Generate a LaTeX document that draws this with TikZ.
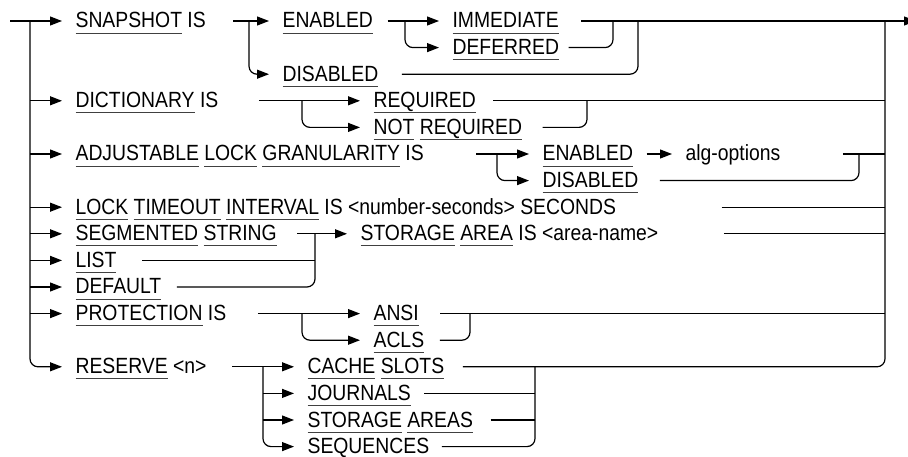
\documentclass[tikz,border=0pt]{standalone}
\usepackage{fontspec}
\setmainfont[FakeStretch=0.88]{Liberation Sans}
\usetikzlibrary{arrows.meta, positioning}

% underlined keyword
\newcommand{\kw}[1]{\setbox0\hbox{#1}\rlap{\color{black!75}\rule[-5.5pt]{\wd0}{0.9pt}}\box0\relax}

\begin{document}
\begin{tikzpicture}[x=1pt, y=-1pt, >={Triangle[length=12pt, width=9pt]}, line width=1.2pt,
    word/.style={anchor=west, inner sep=0pt, text height=14pt, text depth=0pt, font=\fontsize{22}{26}\selectfont},
    go/.style={->, shorten >=13pt},
    rcorner/.style={rounded corners=8pt}]
    \useasboundingbox (0,0) rectangle (908,457);

    % Keywords, one row after the other
    \node[word] (snap) at (75,21) {\kw{SNAPSHOT} IS};
    \node[word] (enA) at (282,21) {\kw{ENABLED}};
    \node[word] (imm) at (452,21) {\kw{IMMEDIATE}};
    \node[word] (defr) at (452,47.6) {\kw{DEFERRED}};
    \node[word] (disA) at (282,74.2) {\kw{DISABLED}};
    \node[word] (dict) at (75,100.8) {\kw{DICTIONARY} IS};
    \node[word] (req) at (373,100.8) {\kw{REQUIRED}};
    \node[word] (nreq) at (373,127.4) {\kw{NOT} \kw{REQUIRED}};
    \node[word] (adj) at (75,154) {\kw{ADJUSTABLE} \kw{LOCK} \kw{GRANULARITY} IS};
    \node[word] (enB) at (542,154) {\kw{ENABLED}};
    \node[word] (alg) at (685,154) {alg-options};
    \node[word] (disB) at (542,180.6) {\kw{DISABLED}};
    \node[word] (lock) at (75,207.2) {\kw{LOCK} \kw{TIMEOUT} \kw{INTERVAL} IS <number-seconds> SECONDS};
    \node[word] (seg) at (75,233.8) {\kw{SEGMENTED} \kw{STRING}};
    \node[word] (area) at (360,233.8) {\kw{STORAGE} \kw{AREA} IS <area-name>};
    \node[word] (list) at (75,260.4) {\kw{LIST}};
    \node[word] (dflt) at (75,287) {\kw{DEFAULT}};
    \node[word] (prot) at (75,313.6) {\kw{PROTECTION} IS};
    \node[word] (ansi) at (373,313.6) {\kw{ANSI}};
    \node[word] (acls) at (373,340.2) {\kw{ACLS}};
    \node[word] (res) at (75,366.8) {\kw{RESERVE} <n>};
    \node[word] (cache) at (307,366.8) {\kw{CACHE} \kw{SLOTS}};
    \node[word] (jour) at (307,393.4) {\kw{JOURNALS}};
    \node[word] (stas) at (307,420) {\kw{STORAGE} \kw{AREAS}};
    \node[word] (seqs) at (307,446.6) {\kw{SEQUENCES}};

    % Branch and merge points
    \coordinate (in) at (10,21);
    \coordinate (lt) at (30,21);
    \coordinate (rt) at (885,21);
    \coordinate (out) at (916,21);
    \coordinate (jSnap) at (249,21);
    \coordinate (jEn) at (405,21);
    \coordinate (mImm) at (613,21);
    \coordinate (mDis) at (638,21);
    \coordinate (jDict) at (302,100.8);
    \coordinate (mReq) at (587,100.8);
    \coordinate (jAdj) at (497,154);
    \coordinate (mAlg) at (859,154);
    \coordinate (mSeg) at (315,233.8);
    \coordinate (jProt) at (302,313.6);
    \coordinate (mAnsi) at (470,313.6);
    \coordinate (jRes) at (263,366.8);
    \coordinate (mCache) at (535,366.8);

    % Left trunk
    \draw (in) -- (lt);
    \draw[go, rcorner] (lt) |- (res.west);
    \foreach \n in {snap,dict,adj,lock,seg,list,dflt,prot}
        \draw[go] (lt |- \n.west) -- (\n.west);

    % Right trunk and exit
    \draw[->] (rt) -- (out);
    \draw[rcorner] ([xshift=18pt]cache.east) -| (rt);
    \draw ([xshift=22pt]imm.east) -- (rt);
    \draw ([xshift=17pt]req.east) -- (rt |- req.east);
    \draw ([xshift=62pt]alg.east) -- (rt |- alg.east);
    \draw ([xshift=105pt]lock.east) -- (rt |- lock.east);
    \draw ([xshift=65pt]area.east) -- (rt |- area.east);
    \draw ([xshift=21pt]ansi.east) -- (rt |- ansi.east);

    % SNAPSHOT
    \draw[go] ([xshift=27pt]snap.east) -- (enA.west);
    \draw[go, rcorner] (jSnap) |- (disA.west);
    \draw[go] ([xshift=14pt]enA.east) -- (imm.west);
    \draw[go, rcorner] (jEn) |- (defr.west);
    \draw[rcorner] ([xshift=9pt]defr.east) -| (mImm);
    \draw[rcorner] ([xshift=23pt]disA.east) -| (mDis);

    % DICTIONARY
    \draw[go] ([xshift=40pt]dict.east) -- (req.west);
    \draw[go, rcorner] (jDict) |- (nreq.west);
    \draw[rcorner] ([xshift=20pt]nreq.east) -| (mReq);

    % ADJUSTABLE LOCK GRANULARITY
    \draw[go] ([xshift=52pt]adj.east) -- (enB.west);
    \draw[go, rcorner] (jAdj) |- (disB.west);
    \draw[go] ([xshift=13pt]enB.east) -- (alg.west);
    \draw[rcorner] ([xshift=21pt]disB.east) -| (mAlg);

    % SEGMENTED STRING, LIST, DEFAULT
    \draw[go] ([xshift=20pt]seg.east) -- (area.west);
    \draw ([xshift=25pt]list.east) -- (mSeg |- list.east);
    \draw[rcorner] ([xshift=15pt]dflt.east) -| (mSeg);

    % PROTECTION
    \draw[go] ([xshift=31pt]prot.east) -- (ansi.west);
    \draw[go, rcorner] (jProt) |- (acls.west);
    \draw[rcorner] ([xshift=15pt]acls.east) -| (mAnsi);

    % RESERVE
    \draw[go] ([xshift=25pt]res.east) -- (cache.west);
    \draw[go, rcorner] (jRes) |- (seqs.west);
    \draw[go] (jRes |- jour.west) -- (jour.west);
    \draw[go] (jRes |- stas.west) -- (stas.west);
    \draw[rcorner] ([xshift=12pt]seqs.east) -| (mCache);
    \draw ([xshift=13pt]jour.east) -- (mCache |- jour.east);
    \draw ([xshift=17pt]stas.east) -- (mCache |- stas.east);
\end{tikzpicture}
\end{document}
